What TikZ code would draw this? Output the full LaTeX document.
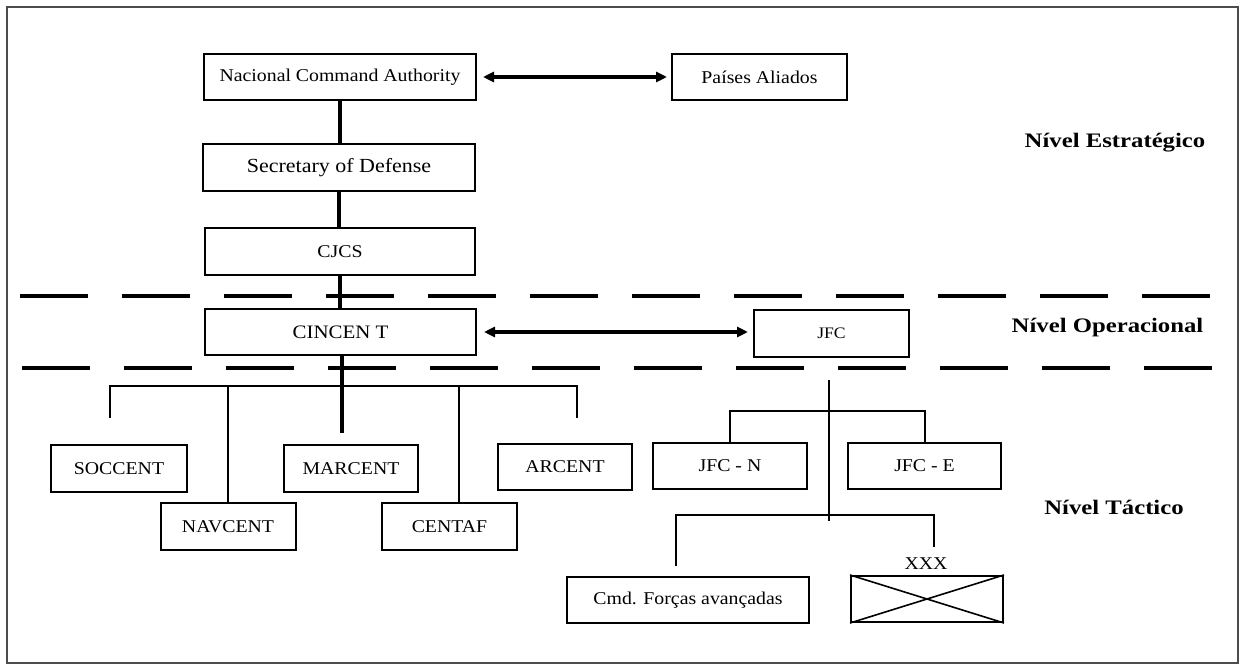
\documentclass[tikz,border=0pt]{standalone}
\usepackage{fontspec}
\setmainfont{Liberation Serif}[FakeStretch=1.1]
\newfontfamily\lvlfont{Liberation Serif}[FakeStretch=1.2]
\usetikzlibrary{arrows.meta}
\tikzset{
  box/.style={draw, line width=1pt, inner sep=0pt, font=\fontsize{9}{11}\selectfont},
  lbl/.style={inner sep=0pt, font=\fontsize{9}{11}\selectfont},
  lvl/.style={inner sep=0pt, font=\lvlfont\bfseries\fontsize{10.3}{12}\selectfont},
  thickline/.style={line width=1.6pt},
  thinline/.style={line width=1pt},
  dashline/.style={line width=1.6pt, dash pattern=on 34pt off 17pt},
  dblarrow/.style={line width=1.6pt, {Triangle[length=5.5pt,width=5pt]}-{Triangle[length=5.5pt,width=5pt]}},
  frame/.style={line width=1.3pt, draw=black!70}
}
\begin{document}
\begin{tikzpicture}[x=0.5pt,y=-0.5pt]
\useasboundingbox (0,0) rectangle (1243,668);
% frame
\coordinate (fa) at (7,7);
\coordinate (fb) at (1238,663);
\draw[frame] (fa) rectangle (fb);

% strategic level
\node[box, minimum width=136pt, minimum height=23pt] (nca) at (340,77) {Nacional Command Authority};
\node[box, minimum width=87.5pt, minimum height=23pt] (pai) at (759.5,77) {Países Aliados};
\node[box, minimum width=136pt, minimum height=23.5pt, font=\fontsize{10}{12}\selectfont] (sec) at (339,167.5) {Secretary of Defense};
\node[box, minimum width=135pt, minimum height=23.5pt] (cjcs) at (340,251.5) {CJCS};

% operational level
\node[box, minimum width=135.5pt, minimum height=23pt, font=\fontsize{9.5}{11}\selectfont] (cin) at (340.5,332.5) {CINCEN T};
\node[box, minimum width=77.5pt, minimum height=23.5pt] (jfc) at (831.5,333.5) {\fontsize{8}{10}\selectfont JFC};

% tactical level
\node[box, minimum width=68pt, minimum height=23.5pt] (soc) at (119,468.5) {SOCCENT};
\node[box, minimum width=67.5pt, minimum height=23.5pt] (nav) at (228,526.5) {NAVCENT};
\node[box, minimum width=67pt, minimum height=23.5pt] (mar) at (351,468.5) {MARCENT};
\node[box, minimum width=67.5pt, minimum height=23.5pt] (cen) at (449.5,526.5) {CENTAF};
\node[box, minimum width=67pt, minimum height=23pt] (arc) at (565,467) {ARCENT};
\node[box, minimum width=77pt, minimum height=23pt] (jfcn) at (730,466) {JFC - N};
\node[box, minimum width=76.5pt, minimum height=23pt] (jfce) at (924.5,466) {JFC - E};
\node[box, minimum width=121pt, minimum height=23pt] (cmd) at (688,600) {Cmd. Forças avançadas};
\node[box, minimum width=76pt, minimum height=23pt] (xxx) at (927,599) {};
\node[lbl] (xl) at (926,564) {XXX};
\draw[line width=0.8pt] (xxx.north west) -- (xxx.south east);
\draw[line width=0.8pt] (xxx.south west) -- (xxx.north east);

% level labels
\node[lvl] (lest) at (1115,143) {Nível Estratégico};
\node[lvl] (lop) at (1107.5,328) {Nível Operacional};
\node[lvl] (ltac) at (1114,507) {Nível Táctico};

% dashed separators
\coordinate (d1a) at (20,296);
\coordinate (d1b) at (1216,296);
\coordinate (d2a) at (22,368);
\coordinate (d2b) at (1218,368);
\draw[dashline] (d1a) -- (d1b);
\draw[dashline] (d2a) -- (d2b);

% vertical chain
\draw[thickline] (nca.south) -- (nca.south |- sec.north);
\draw[thickline] (sec.south) -- (sec.south |- cjcs.north);
\draw[thickline] (cjcs.south) -- (cjcs.south |- cin.north);

% double arrows
\draw[dblarrow, shorten <=3pt, shorten >=2pt] (nca.east) -- (pai.west);
\coordinate (cinr) at (476,332);
\draw[dblarrow, shorten <=4pt, shorten >=2.5pt] (cinr) -- (cinr -| jfc.west);

% CINCENT subordinates
\coordinate (cinend) at (342,433);
\draw[thickline] (cin.south -| cinend) -- (cinend);
\coordinate (bl) at (110,386);
\coordinate (br) at (577,386);
\coordinate (soctop) at (110,418);
\coordinate (arctop) at (577,418);
\draw[thinline] (soctop) -- (bl) -- (br) -- (arctop);
\draw[thinline] (nav.north) -- (nav.north |- bl);
\coordinate (cenbar) at (459,386);
\draw[thinline] (cenbar) -- (cenbar |- cen.north);

% JFC subordinates
\coordinate (jtop) at (829,380);
\coordinate (jbot) at (829,521);
\draw[thinline] (jtop) -- (jbot);
\coordinate (jb) at (829,411);
\draw[thinline] (jfcn.north) |- (jb) -| (jfce.north);
\coordinate (kb) at (829,515);
\coordinate (cmdtop) at (676,566);
\coordinate (xtop) at (934,547);
\draw[thinline] (cmdtop) |- (kb) -| (xtop);
\end{tikzpicture}
\end{document}
